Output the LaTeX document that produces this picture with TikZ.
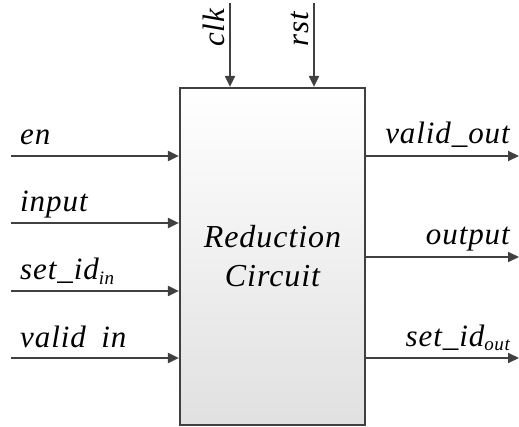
\documentclass[tikz,border=0pt]{standalone}
\usepackage{fontspec}
\setmainfont{Liberation Serif}[LetterSpace=3]
\usetikzlibrary{arrows.meta}

\newcommand{\sigsub}[1]{\raisebox{-0.3ex}{\fontsize{19}{19}\selectfont #1}}

\begin{document}
\begin{tikzpicture}[x=1pt, y=-1pt,
  block/.style={rectangle, draw=black!75, line width=2.2pt, top color=white, bottom color=black!12, minimum width=185pt, minimum height=337pt, align=center, font=\fontsize{32}{39}\selectfont\itshape, inner sep=0pt},
  sig/.style={-{Triangle[length=11pt,width=10pt]}, line width=2pt, draw=black!75},
  lbl/.style={font=\fontsize{31}{36}\selectfont\itshape, inner sep=0pt},
]
  \useasboundingbox (0,0) rectangle (519,427);

  \node[block] (rc) at (272.5,256.5) {Reduction\\Circuit};

  % clock and reset from above
  \coordinate (clk-src) at (230,3);
  \coordinate (rst-src) at (314,3);
  \draw[sig] (clk-src) -- (clk-src |- rc.north);
  \draw[sig] (rst-src) -- (rst-src |- rc.north);
  \node[lbl, rotate=90, anchor=base west] (clk-lbl) at (224,47) {clk};
  \node[lbl, rotate=90, anchor=base west] (rst-lbl) at (308,47) {rst};

  % inputs
  \foreach \y/\nm/\txt in {156/en/en, 223/inp/input, 291/sid/{set\_id\sigsub{in}}, 358/vld/{valid\phantom{\_}in}} {
    \coordinate (\nm-src) at (11,\y);
    \draw[sig] (\nm-src) -- (\nm-src -| rc.west);
    \node[lbl, anchor=base west] (\nm-lbl) at (20,\y-11) {\txt};
  }

  % outputs
  \foreach \y/\nm/\txt in {156/vout/{valid\_out}, 257/out/output, 358/sout/{set\_id\sigsub{out}}} {
    \coordinate (\nm-dst) at (519,\y);
    \draw[sig] (\nm-dst -| rc.east) -- (\nm-dst);
    \node[lbl, anchor=base east] (\nm-lbl) at (510,\y-12) {\txt};
  }
\end{tikzpicture}
\end{document}
